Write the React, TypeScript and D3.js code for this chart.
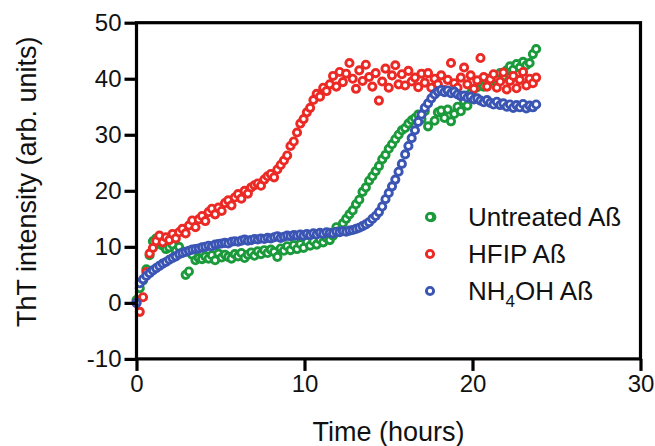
import { useEffect, useRef } from "react";
import * as d3 from "d3";

// plate reader sampling interval (hours)
const readInterval = 0.195;

const untreated = [
  0.5, 2.6, 4.0, 6.0, 8.5, 11.0, 11.5, 10.5, 10.2, 9.6,
  9.9, 10.4, 9.3, 10.0, 9.0, 5.0, 5.6, 8.6, 7.6, 8.0,
  7.8, 8.3, 7.9, 8.5, 7.6, 8.8, 8.1, 8.6, 8.2, 7.9,
  8.7, 8.3, 8.9, 8.0, 8.6, 9.0, 8.4, 9.2, 8.7, 9.4,
  8.9, 9.5, 9.1, 8.2, 9.7, 9.3, 10.1, 9.4, 10.3, 9.6,
  10.5, 9.8, 10.9, 10.2, 11.0, 10.4, 11.3, 10.8, 11.6, 11.2,
  12.0, 13.5, 12.8, 14.2, 15.0, 15.8, 16.5, 17.6, 18.4, 19.8,
  20.6, 21.8, 22.6, 23.5, 24.4, 25.6, 26.4, 27.5, 28.3, 29.2,
  30.0, 30.8, 31.2, 32.0, 32.6, 33.0, 33.6, 32.8, 34.2, 31.5,
  15.3, 32.5, 34.0, 34.3, 33.0, 34.5, 32.4, 33.7, 35.0, 34.2,
  36.0, 35.2, 37.4, 36.6, 38.5, 39.2, 38.6, 40.0, 39.5, 40.6,
  40.2, 41.0, 40.4, 41.5, 42.2, 41.6, 42.6, 42.0, 43.0, 42.4,
  42.8, 44.4, 45.3,
];

const hfip = [
  0, -1.6, 1.0, 5.5, 8.8, 9.8, 11.0, 12.0, 10.8, 11.7,
  11.2, 12.3, 11.5, 12.6, 13.2, 12.4, 13.8, 14.7, 13.5, 14.9,
  15.5, 14.6, 16.2, 16.8, 15.8, 17.0, 16.4, 17.8, 18.3, 17.4,
  18.8, 19.4, 18.6, 20.0, 19.5, 20.6, 21.0, 21.3, 20.9, 22.0,
  22.6, 23.0, 22.4, 23.8, 24.6, 25.4, 26.3, 28.0, 28.8, 30.4,
  32.0, 32.8, 34.0, 34.8, 36.2, 37.3, 36.8, 38.4, 37.8, 39.0,
  40.5, 38.6, 41.2, 39.4, 40.9, 42.8, 40.0, 38.2, 41.5, 39.6,
  42.5, 40.3, 38.6, 41.0, 36.1, 39.5, 41.8, 38.4, 40.6, 42.4,
  39.0, 40.8, 38.8, 41.4, 39.5, 40.2, 38.5, 40.9, 39.3, 41.0,
  38.4, 40.0, 39.0, 40.6, 38.0, 39.8, 42.8, 39.2, 38.4, 40.2,
  42.0, 39.0, 40.6, 38.2, 39.7, 43.7, 40.3, 38.6, 39.9, 40.8,
  38.4, 39.5, 41.1, 38.1, 39.6, 40.5, 38.3, 39.8, 41.2, 38.8,
  40.0, 39.2, 40.2,
];

const nh4oh = [
  0, 3.5, 4.2, 4.8, 5.3, 5.8, 6.2, 6.6, 7.0, 7.3,
  7.7, 8.0, 8.3, 8.7, 8.9, 9.1, 9.3, 9.5, 9.6, 9.7,
  9.9, 10.0, 10.2, 10.1, 10.4, 10.5, 10.6, 10.7, 10.6, 10.9,
  11.0, 10.9, 11.1, 11.3, 11.1, 11.2, 11.4, 11.3, 11.5, 11.4,
  11.6, 11.5, 11.7, 11.9, 11.6, 11.8, 12.0, 11.9, 12.1, 12.0,
  12.2, 12.0, 12.3, 12.1, 12.4, 12.2, 12.5, 12.3, 12.6, 12.5,
  12.4, 12.7, 12.6, 12.8, 12.7, 12.9, 13.0, 13.2, 13.4, 13.7,
  14.0, 14.4, 15.0, 15.5, 16.2, 17.2, 18.5, 19.6, 20.8, 22.0,
  23.4, 24.8, 26.5, 28.0, 29.4, 30.8, 32.3, 33.6, 34.8, 35.6,
  36.5, 37.2, 37.7, 38.0, 37.6, 37.9, 37.4, 37.7, 37.2, 36.9,
  37.0, 36.6, 36.8, 36.3, 36.5, 36.1, 35.8, 36.2, 35.7, 35.4,
  35.9, 35.3, 35.6, 35.0, 35.4, 34.8, 35.3, 34.9, 35.5, 34.7,
  35.2, 34.9, 35.4,
];

const xTicks = [0, 10, 20, 30];
const yTicks = [-10, 0, 10, 20, 30, 40, 50];

const series = [
  { name: "Untreated Aß", values: untreated, color: "#1b9a3b" },
  { name: "HFIP Aß", values: hfip, color: "#ec2a25" },
  { name: "NH4OH Aß", values: nh4oh, color: "#3b55b4" },
];

const W = 655;
const H = 446;
const margin = { top: 22.7, right: 14.5, bottom: 87.1, left: 136.5 };
const FONT = "Arial, 'Liberation Sans', Helvetica, sans-serif";
const R = 3.6;
const SW = 2.9;

const App = () => {
  const ref = useRef<SVGSVGElement | null>(null);

  useEffect(() => {
    const svg = d3.select(ref.current);
    svg.selectAll("*").remove();

    const width = W - margin.left - margin.right;
    const height = H - margin.top - margin.bottom;

    const x = d3.scaleLinear().domain([0, 30]).range([0, width]);
    const y = d3.scaleLinear().domain([-10, 50]).range([height, 0]);

    const g = svg
      .append("g")
      .attr("transform", `translate(${margin.left},${margin.top})`);

    // points first, frame on top
    series.forEach((s) => {
      g.append("g")
        .selectAll("circle")
        .data(s.values)
        .enter()
        .append("circle")
        .attr("cx", (d, i) => x(i * readInterval))
        .attr("cy", (d) => y(d))
        .attr("r", R)
        .attr("fill", "#fff")
        .attr("stroke", s.color)
        .attr("stroke-width", SW);
    });

    // frame box
    g.append("rect")
      .attr("x", 0)
      .attr("y", 0)
      .attr("width", width)
      .attr("height", height)
      .attr("fill", "none")
      .attr("stroke", "#000")
      .attr("stroke-width", 3.2);

    const fmt = (d: any) => String(d);
    const yAxis = g
      .append("g")
      .call(
        d3.axisLeft(y).tickValues(yTicks).tickFormat(fmt).tickSize(12).tickSizeOuter(0).tickPadding(3)
      );
    const xAxis = g
      .append("g")
      .attr("transform", `translate(0,${height})`)
      .call(
        d3.axisBottom(x).tickValues(xTicks).tickFormat(fmt).tickSize(12).tickSizeOuter(0).tickPadding(4)
      );

    [yAxis, xAxis].forEach((a) => {
      a.select(".domain").remove();
      a.selectAll("line").attr("stroke", "#000").attr("stroke-width", 3.2);
      a.selectAll("text")
        .attr("fill", "#111")
        .style("font-family", FONT)
        .style("font-size", "24px");
    });

    // axis titles
    svg
      .append("text")
      .attr("transform", `translate(36,${margin.top + height / 2 - 9}) rotate(-90)`)
      .attr("text-anchor", "middle")
      .style("font-family", FONT)
      .style("font-size", "27px")
      .attr("fill", "#111")
      .text("ThT intensity (arb. units)");

    svg
      .append("text")
      .attr("x", margin.left + width / 2)
      .attr("y", 441)
      .attr("text-anchor", "middle")
      .style("font-family", FONT)
      .style("font-size", "27px")
      .attr("fill", "#111")
      .text("Time (hours)");

    // legend
    const legend = svg.append("g").attr("transform", "translate(430,217)");
    series.forEach((s, i) => {
      const row = legend.append("g").attr("transform", `translate(0,${i * 37})`);
      row
        .append("circle")
        .attr("r", R)
        .attr("fill", "#fff")
        .attr("stroke", s.color)
        .attr("stroke-width", SW);
      const t = row
        .append("text")
        .attr("x", 38)
        .attr("y", 9)
        .style("font-family", FONT)
        .style("font-size", "26px")
        .attr("fill", "#111");
      if (s.name.startsWith("NH4OH")) {
        t.append("tspan").text("NH");
        t.append("tspan").attr("dy", 7).style("font-size", "17px").text("4");
        t.append("tspan").attr("dy", -7).text("OH Aß");
      } else {
        t.text(s.name);
      }
    });
  }, []);

  return (
    <svg
      ref={ref}
      width={W}
      height={H}
      style={{ position: "absolute", left: 0, top: 0, background: "#fff" }}
    />
  );
};

export default App;
